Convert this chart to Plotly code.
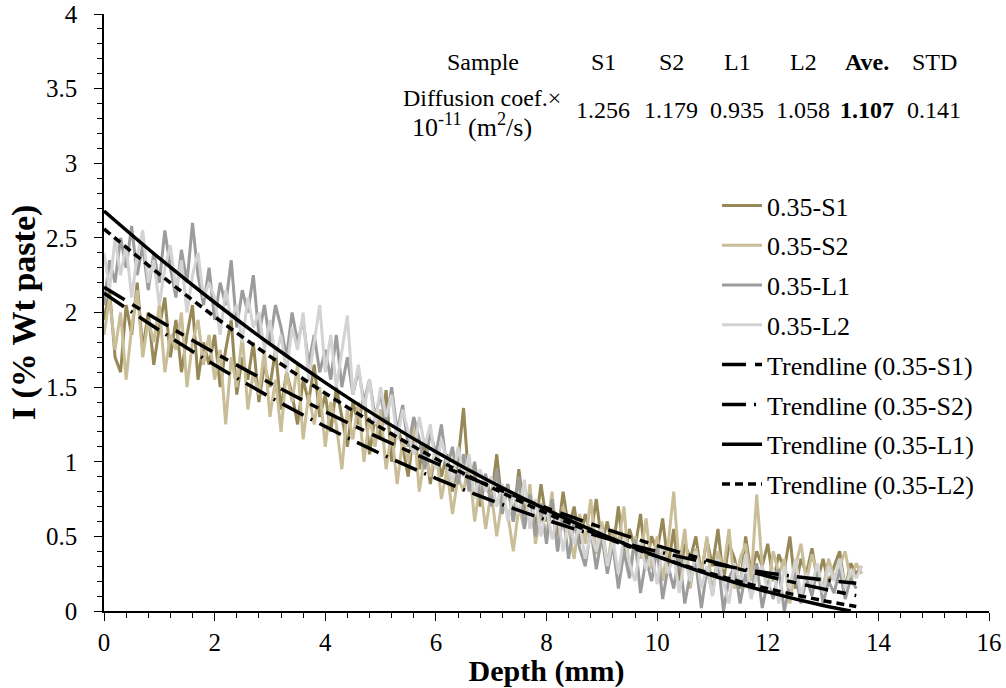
import plotly.graph_objects as go

# ---------------- data ----------------
depth = [round(i * 0.1, 1) for i in range(138)]  # 0.0 ... 13.7 mm measurement grid

s1 = [1.95, 2.15, 1.70, 1.60, 2.05, 1.85, 2.20, 1.75, 2.00, 1.65,
      1.90, 2.10, 1.70, 1.95, 1.60, 1.85, 2.05, 1.55, 1.80, 1.65,
      1.85, 1.50, 1.75, 1.95, 1.45, 1.70, 1.55, 1.80, 1.40, 1.65,
      1.50, 1.75, 1.35, 1.60, 1.45, 1.25, 1.55, 1.40, 1.65, 1.30,
      1.45, 1.20, 1.50, 1.30, 1.10, 1.40, 1.25, 1.45, 1.05, 1.30,
      1.15, 1.48, 1.00, 1.25, 1.10, 0.90, 1.20, 0.95, 1.15, 0.85,
      1.10, 0.90, 1.05, 0.80, 1.00, 1.36, 0.85, 0.95, 0.70, 0.90,
      0.75, 1.05, 0.70, 0.85, 0.60, 0.95, 0.65, 0.80, 0.55, 0.85,
      0.60, 0.75, 0.50, 0.80, 0.55, 0.70, 0.45, 0.65, 0.50, 0.75,
      0.45, 0.60, 0.40, 0.70, 0.35, 0.55, 0.42, 0.65, 0.30, 0.50,
      0.40, 0.62, 0.30, 0.55, 0.20, 0.45, 0.35, 0.50, 0.25, 0.48,
      0.30, 0.55, 0.20, 0.45, 0.35, 0.15, 0.50, 0.25, 0.40, 0.30,
      0.45, 0.20, 0.38, 0.28, 0.50, 0.15, 0.35, 0.25, 0.42, 0.20,
      0.35, 0.18, 0.30, 0.40, 0.15, 0.32, 0.25, 0.30]

s2 = [1.85, 2.10, 1.75, 2.00, 1.55, 1.90, 2.15, 1.70, 1.95, 1.80,
      2.05, 1.60, 1.85, 1.75, 2.00, 1.50, 1.80, 1.95, 1.65, 1.85,
      1.55, 1.75, 1.25, 1.70, 1.50, 1.85, 1.35, 1.60, 1.45, 1.75,
      1.30, 1.55, 1.20, 1.60, 1.40, 1.65, 1.15, 1.45, 1.25, 1.50,
      1.10, 1.40, 1.25, 0.95, 1.35, 1.15, 1.40, 1.00, 1.30, 1.10,
      1.35, 0.95, 1.20, 0.85, 1.15, 1.00, 1.25, 0.80, 1.05, 0.90,
      1.10, 0.75, 0.95, 0.65, 0.90, 0.80, 1.00, 0.60, 0.85, 0.55,
      0.80, 0.50, 0.75, 0.65, 0.40, 0.70, 0.55, 0.85, 0.45, 0.65,
      0.50, 0.80, 0.40, 0.70, 0.55, 0.35, 0.65, 0.45, 0.75, 0.38,
      0.60, 0.30, 0.55, 0.45, 0.70, 0.25, 0.50, 0.35, 0.62, 0.28,
      0.50, 0.20, 0.45, 0.80, 0.30, 0.55, 0.15, 0.42, 0.25, 0.50,
      0.10, 0.40, 0.28, 0.55, 0.15, 0.35, 0.45, 0.20, 0.78, 0.30,
      0.15, 0.40, 0.25, 0.35, 0.05, 0.30, 0.45, 0.20, 0.38, 0.25,
      0.15, 0.35, 0.22, 0.30, 0.40, 0.20, 0.32, 0.25]

l1 = [2.05, 2.35, 2.20, 2.50, 2.30, 2.58, 2.25, 2.45, 2.15, 2.40,
      2.20, 2.55, 2.30, 2.10, 2.42, 2.20, 2.60, 2.25, 2.05, 2.30,
      1.95, 2.20, 2.05, 2.35, 1.90, 2.15, 2.00, 2.25, 1.85, 2.05,
      1.80, 2.05, 1.90, 1.70, 2.00, 1.80, 1.95, 1.65, 1.85, 1.60,
      1.75, 1.55, 1.85, 1.50, 1.70, 1.45, 1.62, 1.40, 1.55, 1.30,
      1.45, 1.25, 1.50, 1.20, 1.38, 1.10, 1.30, 1.15, 0.95, 1.20,
      1.05, 1.25, 0.95, 1.10, 0.85, 1.05, 0.80, 1.00, 0.75, 0.92,
      0.70, 0.95, 0.65, 0.85, 0.60, 0.90, 0.55, 0.78, 0.50, 0.72,
      0.45, 0.75, 0.40, 0.65, 0.35, 0.60, 0.42, 0.30, 0.55, 0.28,
      0.50, 0.25, 0.45, 0.15, 0.40, 0.22, 0.48, 0.12, 0.35, 0.20,
      0.42, 0.08, 0.30, 0.15, 0.38, 0.05, 0.25, 0.32, 0.02, 0.28,
      0.12, 0.35, 0.00, 0.22, 0.30, 0.05, 0.25, 0.10, 0.32, 0.02,
      0.20, 0.08, 0.28, 0.00, 0.18, 0.25, 0.05, 0.22, 0.10, 0.30,
      0.05, 0.20, 0.12, 0.28, 0.08, 0.22, 0.15]

l2 = [2.40, 2.15, 2.50, 2.25, 2.45, 2.10, 2.38, 2.55, 2.20, 2.35,
      2.05, 2.30, 2.45, 2.15, 2.35, 2.00, 2.25, 2.40, 2.10, 2.20,
      2.10, 1.85, 2.15, 1.95, 2.05, 1.80, 2.10, 1.90, 2.00, 1.75,
      1.95, 1.70, 1.85, 1.60, 1.90, 1.75, 2.00, 1.55, 1.80, 2.05,
      1.60, 1.85, 1.50, 1.75, 1.98, 1.45, 1.65, 1.35, 1.55, 1.25,
      1.50, 1.30, 1.45, 1.15, 1.35, 1.20, 1.05, 1.30, 1.10, 1.25,
      0.95, 1.15, 1.00, 0.85, 1.10, 0.90, 1.05, 0.75, 0.95, 0.80,
      0.90, 0.70, 0.85, 0.60, 0.80, 0.65, 0.88, 0.55, 0.75, 0.50,
      0.70, 0.48, 0.65, 0.40, 0.62, 0.45, 0.58, 0.35, 0.52, 0.40,
      0.55, 0.30, 0.48, 0.25, 0.50, 0.32, 0.20, 0.45, 0.28, 0.40,
      0.18, 0.42, 0.25, 0.38, 0.12, 0.35, 0.20, 0.40, 0.15, 0.30,
      0.10, 0.35, 0.20, 0.05, 0.32, 0.18, 0.38, 0.08, 0.25, 0.30,
      0.12, 0.28, 0.05, 0.30, 0.15, 0.35, 0.10, 0.25, 0.18, 0.32,
      0.12, 0.30, 0.20, 0.35, 0.15, 0.28, 0.22, 0.30]

# trendlines (read at 1 mm steps)
t_x_s1 = [0, 1, 2, 3, 4, 5, 6, 7, 8, 9, 10, 11, 12, 13, 13.6]
t_s1 = [2.17, 1.944, 1.730, 1.528, 1.336, 1.157, 0.990, 0.835, 0.691, 0.559, 0.438, 0.330, 0.233, 0.148, 0.103]
t_x_s2 = [0, 1, 2, 3, 4, 5, 6, 7, 8, 9, 10, 11, 12, 13, 13.6]
t_s2 = [2.13, 1.881, 1.649, 1.434, 1.236, 1.054, 0.889, 0.741, 0.610, 0.496, 0.399, 0.318, 0.255, 0.209, 0.186]
t_x_l1 = [0, 1, 2, 3, 4, 5, 6, 7, 8, 9, 10, 11, 12, 13, 13.5]
t_l1 = [2.68, 2.364, 2.067, 1.789, 1.530, 1.289, 1.067, 0.864, 0.679, 0.513, 0.366, 0.238, 0.128, 0.037, 0.0]
t_x_l2 = [0, 1, 2, 3, 4, 5, 6, 7, 8, 9, 10, 11, 12, 13, 13.6]
t_l2 = [2.56, 2.257, 1.972, 1.706, 1.459, 1.230, 1.020, 0.828, 0.655, 0.501, 0.365, 0.248, 0.150, 0.070, 0.030]

# table of diffusion coefficients
table_heads = ["S1", "S2", "L1", "L2", "Ave.", "STD"]
table_vals = ["1.256", "1.179", "0.935", "1.058", "1.107", "0.141"]

FONT = "Liberation Serif, Times New Roman, serif"

fig = go.Figure()

series = [("0.35-S1", s1, "#978857"), ("0.35-S2", s2, "#C9BE98"),
          ("0.35-L1", l1, "#9C9C9C"), ("0.35-L2", l2, "#D3D3D3")]
for name, vals, col in series:
    fig.add_trace(go.Scatter(x=depth[:len(vals)], y=vals, mode="lines", name=name,
                             legendgroup=name,
                             line=dict(color=col, width=3)))

trends = [("Trendline (0.35-S1)", t_x_s1, t_s1, "24px,9px,9px,9px"),
          ("Trendline (0.35-S2)", t_x_s2, t_s2, "24px,8px,2px,8px"),
          ("Trendline (0.35-L1)", t_x_l1, t_l1, "solid"),
          ("Trendline (0.35-L2)", t_x_l2, t_l2, "8px,5px")]
for name, xs, ys, dash in trends:
    fig.add_trace(go.Scatter(x=xs, y=ys, mode="lines", name=name, legendgroup=name,
                             line=dict(color="black", width=3.5, dash=dash, shape="spline")))

# table annotations
xl, xr, yt, yb = 104, 989, 14, 611
def px(xp):
    return (xp - xl) / (xr - xl)
def py(yp):
    return (yb - yp) / (yb - yt)

col_x = [603, 671, 737, 803, 867, 934]
anns = [dict(text="Sample", x=px(483), y=py(62))]
for h, cx in zip(table_heads, col_x):
    t = f"<b>{h}</b>" if h == "Ave." else h
    anns.append(dict(text=t, x=px(cx), y=py(62)))
for v, cx in zip(table_vals, col_x):
    t = f"<b>{v}</b>" if v == "1.107" else v
    anns.append(dict(text=t, x=px(cx), y=py(110)))
anns.append(dict(text="Diffusion coef.×", x=px(482), y=py(98), size=24))
anns.append(dict(text="10<sup>-11</sup> (m<sup>2</sup>/s)", x=px(472), y=py(125), size=26))
for a in anns:
    sz = a.pop("size", 24)
    a.update(xref="paper", yref="paper", showarrow=False, xanchor="center", yanchor="middle",
             font=dict(family=FONT, size=sz, color="black"))
fig.update_layout(annotations=anns)

fig.update_layout(
    width=1006, height=688,
    margin=dict(l=104, r=17, t=14, b=77),
    paper_bgcolor="white", plot_bgcolor="white",
    font=dict(family=FONT, size=24, color="black"),
    showlegend=True,
    legend=dict(x=px(717), y=py(182), xanchor="left", yanchor="top",
                font=dict(family=FONT, size=26, color="black"),
                tracegroupgap=3, bgcolor="rgba(0,0,0,0)", itemwidth=40),
    xaxis=dict(range=[0, 16], dtick=2, tick0=0, showgrid=False, zeroline=False,
               automargin=False,
               showline=True, linecolor="black", linewidth=1.5,
               ticks="outside", ticklen=8, tickcolor="black", tickwidth=1.2,
               minor=dict(dtick=0.4, ticks="outside", ticklen=5, tickcolor="black"),
               tickfont=dict(family=FONT, size=25),
               title=dict(text="<b>Depth (mm)</b>", font=dict(family=FONT, size=30), standoff=0)),
    yaxis=dict(range=[0, 4], dtick=0.5, tick0=0, showgrid=False, zeroline=False,
               automargin=False,
               showline=True, linecolor="black", linewidth=1.5,
               ticks="outside", ticklen=8, tickcolor="black", tickwidth=1.2,
               ticklabelstandoff=12,
               minor=dict(dtick=0.1, ticks="outside", ticklen=5, tickcolor="black"),
               tickfont=dict(family=FONT, size=25),
               title=dict(text="<b>I (% Wt paste)</b>", font=dict(family=FONT, size=34), standoff=0)),
)

fig.write_html("out.html")
